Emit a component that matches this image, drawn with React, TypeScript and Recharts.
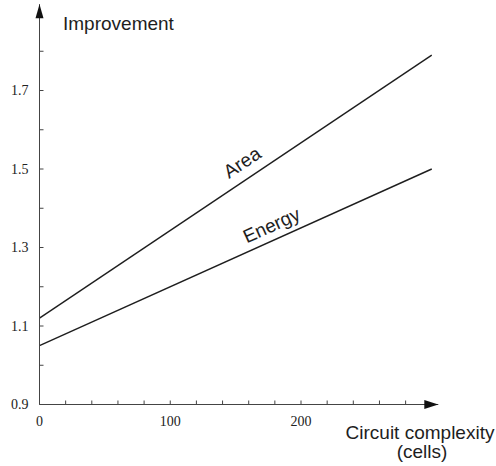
import React from "react";
import {
  LineChart,
  Line,
  XAxis,
  YAxis,
  ReferenceDot,
  Label
} from "recharts";

// circuit complexity (cells) at the two ends of each line
const complexity = [0, 300];
const areaGain = [1.12, 1.79];
const energyGain = [1.05, 1.5];

const xTicks = [0, 20, 40, 60, 80, 100, 120, 140, 160, 180, 200, 220, 240, 260, 280];
const xTickLabels = ["0", "100", "200"];
const yTicks = [0.9, 1.0, 1.1, 1.2, 1.3, 1.4, 1.5, 1.6, 1.7, 1.8];
const yTickLabels = ["0.9", "1.1", "1.3", "1.5", "1.7"];

const data = complexity.map((c, i) => ({
  cells: c,
  area: areaGain[i],
  energy: energyGain[i]
}));

const X_MAX = 305;
const Y_MIN = 0.9;
const Y_MAX = 1.92;

const SANS = "'Liberation Sans', Arial, sans-serif";
const SERIF = "'Liberation Serif', 'Times New Roman', serif";
const AXIS = "#444";
const INK = "#1e1e1e";

// value on a straight line at a given x (for label anchors)
const along = (ys: number[], x: number) =>
  ys[0] + ((ys[1] - ys[0]) * (x - complexity[0])) / (complexity[1] - complexity[0]);

const lineLabel = (text: string, angle: number, lift: number) => (props: any) => {
  const { cx, cy } = props;
  return (
    <text
      x={cx}
      y={cy}
      transform={`rotate(${angle} ${cx} ${cy}) translate(0 ${-lift})`}
      textAnchor="middle"
      fontFamily={SANS}
      fontSize={19}
      fill={INK}
    >
      {text}
    </text>
  );
};

const arrowRight = (props: any) => {
  const { cx, cy } = props;
  return <polygon points={`${cx},${cy} ${cx - 14},${cy - 4.5} ${cx - 14},${cy + 4.5}`} fill="#111" />;
};

const arrowUp = (props: any) => {
  const { cx, cy } = props;
  return <polygon points={`${cx},${cy} ${cx - 4},${cy + 14} ${cx + 4},${cy + 14}`} fill="#111" />;
};

const App: React.FC = () => {
  return (
    <div style={{ position: "absolute", left: 0, top: 0, background: "#fff" }}>
      <LineChart
        width={496}
        height={466}
        data={data}
        margin={{ top: 4.15, right: 57.7, bottom: 31.5, left: 0 }}
      >
        <XAxis
          dataKey="cells"
          type="number"
          domain={[0, X_MAX]}
          ticks={xTicks}
          interval={0}
          height={30}
          stroke={AXIS}
          tickSize={-4}
          tickMargin={16}
          tickFormatter={(v: number) => (xTickLabels.includes(String(v)) ? String(v) : "")}
          tick={{ fill: "#222", fontFamily: SERIF, fontSize: 14 }}
        >
          <Label
            content={() => (
              <text textAnchor="middle" fontFamily={SANS} fontSize={19} fill={INK}>
                <tspan x={420} y={439}>Circuit complexity</tspan>
                <tspan x={422} y={458}>(cells)</tspan>
              </text>
            )}
          />
        </XAxis>
        <YAxis
          type="number"
          domain={[Y_MIN, Y_MAX]}
          ticks={yTicks}
          interval={0}
          width={39.5}
          stroke={AXIS}
          tickSize={-4}
          tickMargin={15}
          tickFormatter={(v: number) => {
            const s = v.toFixed(1);
            return yTickLabels.includes(s) ? s : "";
          }}
          tick={{ fill: "#222", fontFamily: SERIF, fontSize: 14 }}
        >
          <Label
            content={() => (
              <text x={63} y={30} fontFamily={SANS} fontSize={19} fill={INK}>
                Improvement
              </text>
            )}
          />
        </YAxis>
        <Line
          dataKey="area"
          stroke={INK}
          strokeWidth={1.4}
          dot={false}
          isAnimationActive={false}
        />
        <Line
          dataKey="energy"
          stroke={INK}
          strokeWidth={1.4}
          dot={false}
          isAnimationActive={false}
        />
        <ReferenceDot x={162} y={along(areaGain, 162)} r={0} shape={lineLabel("Area", -33.8, 10)} />
        <ReferenceDot x={182} y={along(energyGain, 182)} r={0} shape={lineLabel("Energy", -24.2, 8)} />
        <ReferenceDot x={X_MAX} y={Y_MIN} r={0} shape={arrowRight} />
        <ReferenceDot x={0} y={Y_MAX} r={0} shape={arrowUp} />
      </LineChart>
    </div>
  );
};

export default App;
